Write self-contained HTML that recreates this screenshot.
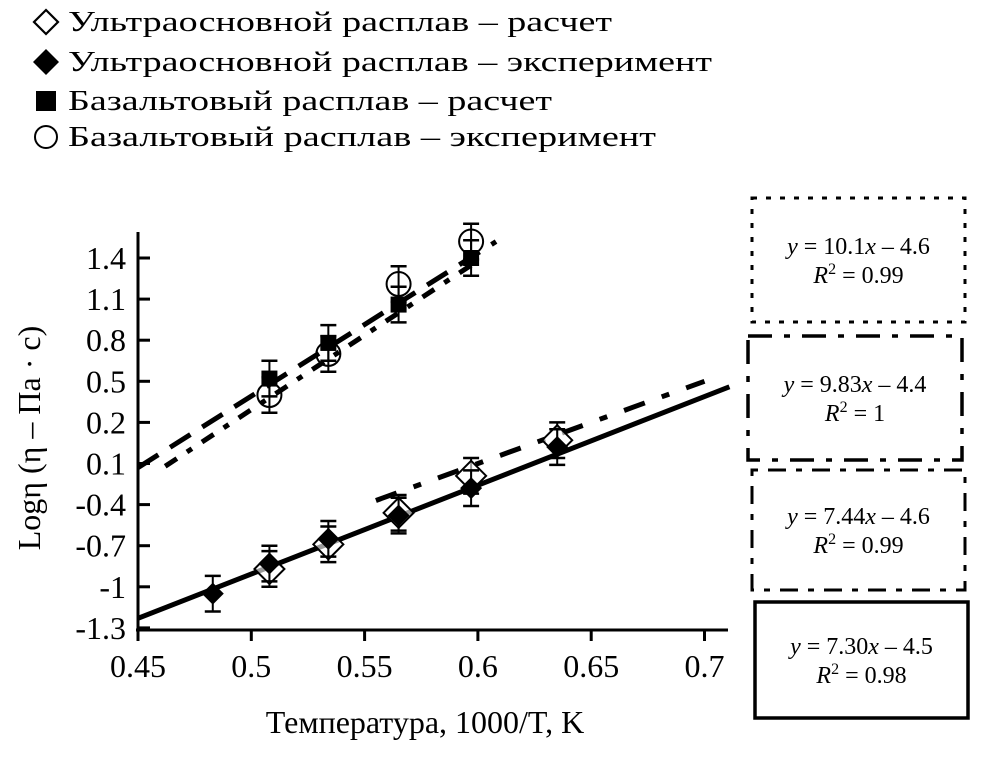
<!DOCTYPE html>
<html><head><meta charset="utf-8"><style>
body{margin:0;background:#fff;width:1004px;height:765px;overflow:hidden}
svg{display:block}
text{font-family:"Liberation Serif","DejaVu Serif",serif;fill:#000}
</style></head><body>
<svg id="c" width="1004" height="765" xmlns="http://www.w3.org/2000/svg"></svg>
<script>
const xTicks=[0.45,0.5,0.55,0.6,0.65,0.7];
const xTickLabels=["0.45","0.5","0.55","0.6","0.65","0.7"];
const yTicks=[1.4,1.1,0.8,0.5,0.2,-0.1,-0.4,-0.7,-1.0,-1.3];
const yTickLabels=["1.4","1.1","0.8","0.5","0.2","0.1","-0.4","-0.7","-1","-1.3"];
const basaltX=[0.508,0.534,0.565,0.597];
const basaltCalc=[0.52,0.78,1.06,1.40];
const basaltExp=[0.40,0.70,1.21,1.52];
const ultraCalcX=[0.508,0.534,0.565,0.597,0.635];
const ultraCalc=[-0.87,-0.69,-0.46,-0.19,0.07];
const ultraExpX=[0.483,0.508,0.534,0.565,0.597,0.635];
const ultraExp=[-1.05,-0.83,-0.65,-0.48,-0.28,0.02];
const errHalf=0.13;
const fitSolid=[[0.45,-1.23],[0.711,0.46]];
const fitUltraDash=[[0.555,-0.37],[0.70,0.50]];
const fitBasaltA=[[0.45,-0.13],[0.608,1.52]];
const fitBasaltB=[[0.462,-0.12],[0.60,1.38]];

const NS="http://www.w3.org/2000/svg";
const svg=document.getElementById('c');
function X(v){return 138+(v-0.45)/0.05*113.3;}
function Y(v){return 258+(1.4-v)/0.3*41.1;}
function el(tag,attrs,parent){const e=document.createElementNS(NS,tag);for(const k in attrs)e.setAttribute(k,attrs[k]);(parent||svg).appendChild(e);return e;}

const legend=el('g',{});


const legItems=[["Ультраосновной расплав – расчет","odiamond",22],["Ультраосновной расплав – эксперимент","fdiamond",62],["Базальтовый расплав – расчет","fsquare",101],["Базальтовый расплав – эксперимент","ocircle",137]];
legItems.forEach((it,i)=>{
  const g=el('g',{},legend);
  
  
  const cx=46,cy=it[2];
  if(it[1]==='odiamond')el('path',{d:`M${cx} ${cy-12}L${cx+12} ${cy}L${cx} ${cy+12}L${cx-12} ${cy}Z`,fill:'none',stroke:'#000','stroke-width':2.2},g);
  if(it[1]==='fdiamond')el('path',{d:`M${cx} ${cy-13}L${cx+13} ${cy}L${cx} ${cy+13}L${cx-13} ${cy}Z`,fill:'#000'},g);
  if(it[1]==='fsquare')el('rect',{x:cx-10,y:cy-10,width:20,height:20,fill:'#000'},g);
  if(it[1]==='ocircle')el('circle',{cx:cx,cy:cy,r:11,fill:'none',stroke:'#000','stroke-width':2},g);
  const t=el('text',{x:68,y:cy+9,'font-size':28,textLength:(i==1?644:(i==0?544:(i==2?484:588))),lengthAdjust:'spacingAndGlyphs'},g);
  t.textContent=it[0];
});

const ax=el('g',{});


el('line',{x1:138,y1:232,x2:138,y2:630,stroke:'#000','stroke-width':3},ax);
el('line',{x1:136,y1:630,x2:728,y2:630,stroke:'#000','stroke-width':3},ax);
xTicks.forEach((v,i)=>{
  el('line',{x1:X(v),y1:630,x2:X(v),y2:641,stroke:'#000','stroke-width':3},ax);
  const t=el('text',{x:X(v),y:677,'font-size':32,'text-anchor':'middle'},ax);
  
  
  t.textContent=xTickLabels[i];
});
yTicks.forEach((v,i)=>{
  el('line',{x1:138,y1:Y(v),x2:150,y2:Y(v),stroke:'#000','stroke-width':3},ax);
  const t=el('text',{x:126,y:Y(v)+11,'font-size':32,'text-anchor':'end'},ax);
  
  
  t.textContent=yTickLabels[i];
});
const yt=el('text',{x:0,y:0,'font-size':32,'text-anchor':'middle',transform:'translate(40,438) rotate(-90)'});


yt.textContent='Logη (η – Па · с)';
const xt=el('text',{x:425,y:733,'font-size':32,'text-anchor':'middle'});


xt.textContent='Температура, 1000/T, K';

function line(p,dash,w,name){const l=el('line',{x1:X(p[0][0]),y1:Y(p[0][1]),x2:X(p[1][0]),y2:Y(p[1][1]),stroke:'#000','stroke-width':w,'stroke-dasharray':dash});

}
line(fitSolid,'none',5,'fit-line-ultra-exp');
line(fitUltraDash,'22 18 8 18',5,'fit-line-ultra-calc');
line(fitBasaltA,'24 14',5,'fit-line-basalt-calc');
line(fitBasaltB,'14 12 6 12',5,'fit-line-basalt-exp');

function err(x,v){const g=el('g',{});


const cx=X(x),y1=Y(v+errHalf),y2=Y(v-errHalf);
el('line',{x1:cx,y1:y1,x2:cx,y2:y2,stroke:'#000','stroke-width':2},g);
el('line',{x1:cx-8,y1:y1,x2:cx+8,y2:y1,stroke:'#000','stroke-width':2.5},g);
el('line',{x1:cx-8,y1:y2,x2:cx+8,y2:y2,stroke:'#000','stroke-width':2.5},g);}

basaltX.forEach((x,i)=>{err(x,basaltExp[i]);const c=el('circle',{cx:X(x),cy:Y(basaltExp[i]),r:12,fill:'none',stroke:'#000','stroke-width':2});

});
basaltX.forEach((x,i)=>{err(x,basaltCalc[i]);const r=el('rect',{x:X(x)-8,y:Y(basaltCalc[i])-8,width:16,height:16,fill:'#000'});

});
ultraCalcX.forEach((x,i)=>{err(x,ultraCalc[i]);const cx=X(x),cy=Y(ultraCalc[i]);const p=el('path',{d:`M${cx} ${cy-15}L${cx+15} ${cy}L${cx} ${cy+15}L${cx-15} ${cy}Z`,fill:'#fff','fill-opacity':0.6,stroke:'#000','stroke-width':2});

});
ultraExpX.forEach((x,i)=>{err(x,ultraExp[i]);const cx=X(x),cy=Y(ultraExp[i]);const p=el('path',{d:`M${cx} ${cy-11}L${cx+11} ${cy}L${cx} ${cy+11}L${cx-11} ${cy}Z`,fill:'#000'});

});

const boxes=[[752,198,213,124,'5 9',3,'10.1x – 4.6','0.99'],[748,336,214,124,'24 12 6 12',3.5,'9.83x – 4.4','1'],[752,470,213,120,'6 10 18 10',3,'7.44x – 4.6','0.99'],[755,602,213,116,'none',3.5,'7.30x – 4.5','0.98']];
boxes.forEach(b=>{const g=el('g',{});


el('rect',{x:b[0],y:b[1],width:b[2],height:b[3],fill:'none',stroke:'#000','stroke-width':b[5],'stroke-dasharray':b[4]},g);
const cx=b[0]+b[2]/2,cy=b[1]+b[3]/2;
const t1=el('text',{x:cx,y:cy-6,'font-size':24,'text-anchor':'middle'},g);
t1.innerHTML='<tspan font-style="italic">y</tspan> = '+b[6].replace('x','<tspan font-style="italic">x</tspan>');
const t2=el('text',{x:cx,y:cy+23,'font-size':24,'text-anchor':'middle'},g);
t2.innerHTML='<tspan font-style="italic">R</tspan><tspan dy="-9" font-size="16">2</tspan><tspan dy="9"> = '+b[7]+'</tspan>';
});
</script>
</body></html>
